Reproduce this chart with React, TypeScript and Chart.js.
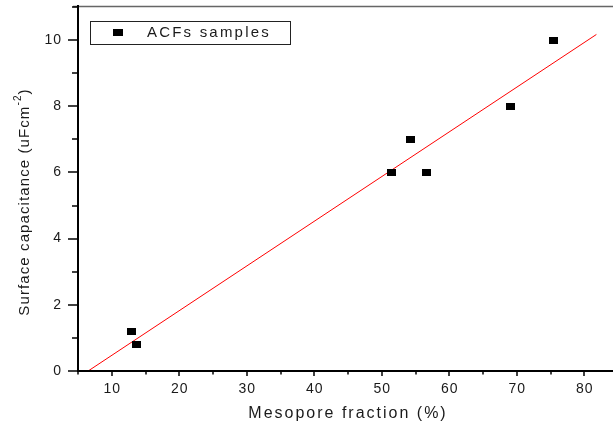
import React, { useEffect, useRef } from 'react';
import { Chart, registerables } from 'chart.js';

Chart.register(...registerables);

// ---- data ----
const mesoporeFraction = [12.9, 13.6, 51.5, 54.3, 56.7, 69.1, 75.5];
const surfaceCapacitance = [1.2, 0.8, 6.0, 7.0, 6.0, 8.0, 10.0];
const fitX = [6.5, 81.8];
const fitY = [0, 10.17];
const xMajorTicks = [10, 20, 30, 40, 50, 60, 70, 80];
const xMinorTicks = [5, 15, 25, 35, 45, 55, 65, 75, 85];
const yMajorTicks = [0, 2, 4, 6, 8, 10];
const yMinorTicks = [1, 3, 5, 7, 9, 11];
const xTitle = 'Mesopore fraction (%)';
const yTitleMain = 'Surface capacitance (uFcm';
const yTitleSup = '-2';
const yTitleEnd = ')';
const legendLabel = 'ACFs samples';

const FONT = '"Liberation Sans", Arial, sans-serif';
const TEXT = '#1a1a1a';

function makeMarker(w: number, h: number) {
  const c = document.createElement('canvas');
  c.width = w;
  c.height = h;
  const g = c.getContext('2d')!;
  g.fillStyle = '#000';
  g.fillRect(0, 0, w, h);
  return c;
}

const axesPlugin = {
  id: 'originAxes',
  afterDraw(chart: any) {
    const ctx: CanvasRenderingContext2D = chart.ctx;
    const { left, top, bottom } = chart.chartArea;
    const xs = chart.scales.x;
    const ys = chart.scales.y;
    ctx.save();
    // top frame line (grey)
    ctx.strokeStyle = '#666';
    ctx.lineWidth = 1.5;
    ctx.beginPath();
    ctx.moveTo(left - 5, top - 0.5);
    ctx.lineTo(chart.width, top - 0.5);
    ctx.stroke();
    // left axis
    ctx.strokeStyle = '#000';
    ctx.lineWidth = 2;
    ctx.beginPath();
    ctx.moveTo(left, top - 2);
    ctx.lineTo(left, bottom + 1);
    ctx.stroke();
    // bottom axis
    ctx.beginPath();
    ctx.moveTo(left, bottom);
    ctx.lineTo(chart.width, bottom);
    ctx.stroke();

    // y ticks
    ctx.lineWidth = 1.5;
    for (const v of yMajorTicks) {
      const y = Math.round(ys.getPixelForValue(v)) ;
      ctx.beginPath();
      ctx.moveTo(left - 10, y);
      ctx.lineTo(left, y);
      ctx.stroke();
    }
    for (const v of yMinorTicks) {
      const y = Math.round(ys.getPixelForValue(v));
      ctx.beginPath();
      ctx.moveTo(left - 6, y);
      ctx.lineTo(left, y);
      ctx.stroke();
    }
    // x ticks
    for (const v of xMajorTicks) {
      const x = Math.round(xs.getPixelForValue(v));
      ctx.beginPath();
      ctx.moveTo(x, bottom);
      ctx.lineTo(x, bottom + 5);
      ctx.stroke();
    }
    for (const v of xMinorTicks) {
      const x = Math.round(xs.getPixelForValue(v));
      ctx.beginPath();
      ctx.moveTo(x, bottom);
      ctx.lineTo(x, bottom + 3.5);
      ctx.stroke();
    }

    // tick labels
    ctx.fillStyle = TEXT;
    ctx.font = `14px ${FONT}`;
    (ctx as any).letterSpacing = '1px';
    ctx.textBaseline = 'middle';
    ctx.textAlign = 'right';
    for (const v of yMajorTicks) {
      ctx.fillText(String(v), left - 16, ys.getPixelForValue(v));
    }
    ctx.textAlign = 'center';
    for (const v of xMajorTicks) {
      ctx.fillText(String(v), xs.getPixelForValue(v) + 0.5, bottom + 18);
    }

    // x title
    ctx.font = `16px ${FONT}`;
    (ctx as any).letterSpacing = '2px';
    ctx.textAlign = 'center';
    ctx.textBaseline = 'middle';
    ctx.fillText(xTitle, 348, 414);

    // y title with superscript
    ctx.save();
    ctx.translate(29, 202);
    ctx.rotate(-Math.PI / 2);
    ctx.textAlign = 'left';
    ctx.textBaseline = 'alphabetic';
    (ctx as any).letterSpacing = '1.1px';
    ctx.font = `15px ${FONT}`;
    const w1 = ctx.measureText(yTitleMain).width;
    const w3 = ctx.measureText(yTitleEnd).width;
    ctx.font = `10px ${FONT}`;
    const w2 = ctx.measureText(yTitleSup).width;
    const total = w1 + w2 + w3;
    let cx = -total / 2;
    ctx.font = `15px ${FONT}`;
    ctx.fillText(yTitleMain, cx, 0);
    cx += w1;
    ctx.font = `10px ${FONT}`;
    ctx.fillText(yTitleSup, cx, -8);
    cx += w2;
    ctx.font = `15px ${FONT}`;
    ctx.fillText(yTitleEnd, cx, 0);
    ctx.restore();

    // legend
    ctx.strokeStyle = '#222';
    ctx.lineWidth = 1;
    ctx.strokeRect(90.5, 21.5, 200, 23);
    ctx.fillStyle = '#000';
    ctx.fillRect(113, 29, 10, 7);
    ctx.fillStyle = TEXT;
    ctx.font = `15px ${FONT}`;
    (ctx as any).letterSpacing = '2.2px';
    ctx.textAlign = 'left';
    ctx.textBaseline = 'middle';
    ctx.fillText(legendLabel, 147, 32.5);

    ctx.restore();
  },
};

export default function App() {
  const ref = useRef<HTMLCanvasElement | null>(null);
  useEffect(() => {
    if (!ref.current) return;
    const marker = makeMarker(9, 7);
    const chart = new Chart(ref.current, {
      type: 'scatter',
      data: {
        datasets: [
          {
            label: legendLabel,
            data: mesoporeFraction.map((x, i) => ({ x, y: surfaceCapacitance[i] })),
            pointStyle: marker as any,
            pointRadius: 5,
            showLine: false,
            backgroundColor: '#000',
            borderColor: '#000',
          },
          {
            label: 'fit',
            data: fitX.map((x, i) => ({ x, y: fitY[i] })),
            showLine: true,
            borderColor: '#ff0000',
            borderWidth: 1,
            pointRadius: 0,
            fill: false,
          },
        ],
      },
      options: {
        responsive: false,
        animation: false,
        devicePixelRatio: 1,
        layout: { padding: { left: 78, right: 12, top: 7, bottom: 60 } },
        plugins: { legend: { display: false }, tooltip: { enabled: false } },
        scales: {
          x: { type: 'linear', min: 5, max: 85, display: false },
          y: { type: 'linear', min: 0, max: 11, display: false },
        },
      },
      plugins: [axesPlugin],
    });
    return () => chart.destroy();
  }, []);
  return (
    <div
      style={{
        position: 'fixed',
        left: 0,
        top: 0,
        width: 613,
        height: 431,
        overflow: 'hidden',
        background: '#fff',
      }}
    >
      <canvas ref={ref} width={630} height={431} style={{ display: 'block', width: 630, height: 431 }} />
    </div>
  );
}
